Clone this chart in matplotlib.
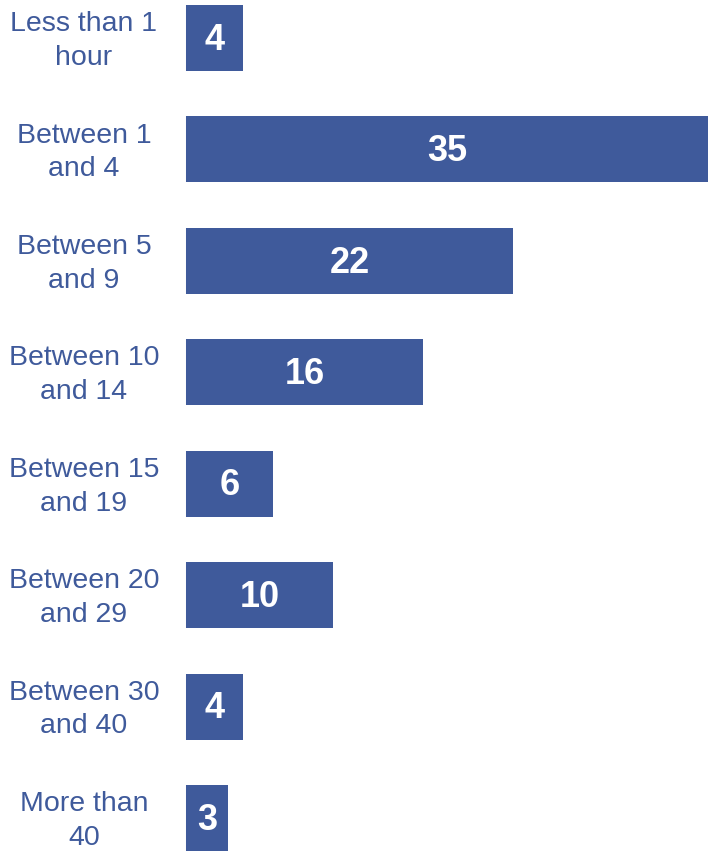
import matplotlib
matplotlib.use('Agg')
import matplotlib.pyplot as plt
from matplotlib.transforms import ScaledTranslation, blended_transform_factory

# hours per week and number of respondents
categories = ['Less than 1\nhour', 'Between 1\nand 4', 'Between 5\nand 9',
              'Between 10\nand 14', 'Between 15\nand 19', 'Between 20\nand 29',
              'Between 30\nand 40', 'More than\n40']
counts = [4, 35, 22, 16, 6, 10, 4, 3]

bar_color = '#3f5a9b'

plt.rcParams['font.family'] = ['Liberation Sans', 'DejaVu Sans']

fig = plt.figure(figsize=(7.08, 8.51), dpi=100)
ax = fig.add_axes([183 / 708, 0, 525 / 708, 1])

pos = range(len(categories))
bars = ax.barh(pos, counts, height=0.592, color=bar_color)

ax.set_xlim(0, 35)
ax.set_ylim(7.296, -0.341)

# value labels in the middle of each bar
for b, v in zip(bars, counts):
    ax.text(b.get_width() / 2 + 0.1, b.get_y() + b.get_height() / 2 + 0.02, str(v),
            ha='center', va='center', color='white', fontsize=26,
            fontweight='bold')

# category labels, centred in the left margin
trans = blended_transform_factory(fig.transFigure, ax.transData)
trans = trans + ScaledTranslation(0, -3 / 100, fig.dpi_scale_trans)
for p, name in zip(pos, categories):
    ax.text(84 / 708, p, name, transform=trans, fontsize=20.5, color=bar_color,
            ha='center', va='center', multialignment='center',
            linespacing=1.38)

ax.set_xticks([])
ax.set_yticks([])
for s in ax.spines.values():
    s.set_visible(False)
# thin white gap at the base of the bars
ax.spines['left'].set_visible(True)
ax.spines['left'].set_color('white')
ax.spines['left'].set_linewidth(4.3)
ax.spines['left'].set_zorder(5)

plt.savefig('out.png', dpi=100)
